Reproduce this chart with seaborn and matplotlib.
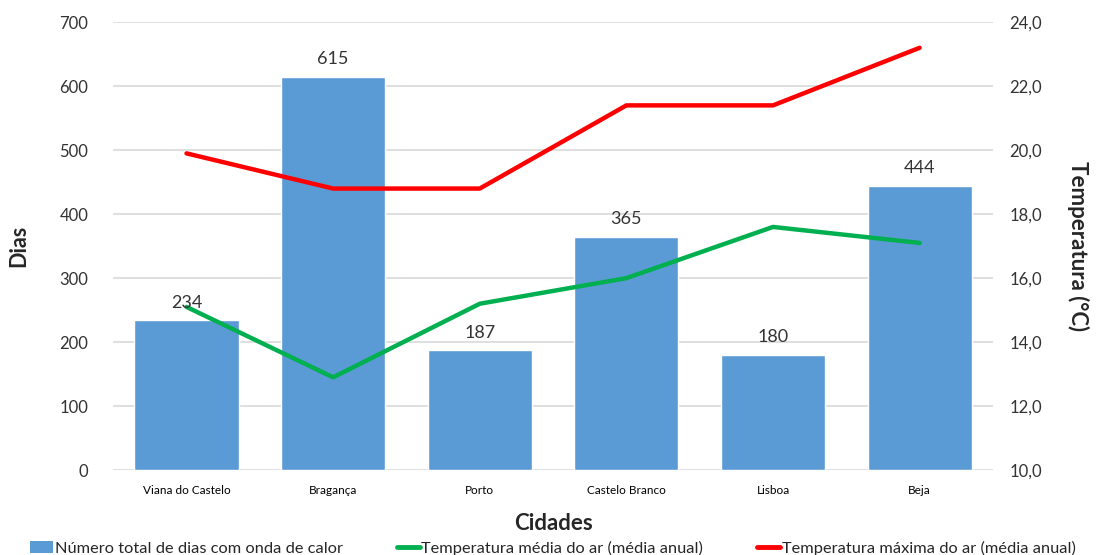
import numpy as np
import pandas as pd
import matplotlib
matplotlib.use("Agg")
import matplotlib.pyplot as plt
from matplotlib.ticker import FuncFormatter, MultipleLocator
from matplotlib.patches import Patch
from matplotlib.lines import Line2D
import seaborn as sns

cidades = ["Viana do Castelo", "Bragança", "Porto", "Castelo Branco", "Lisboa", "Beja"]
dias_onda_calor = [234, 615, 187, 365, 180, 444]
temp_media = [15.1, 12.9, 15.2, 16.0, 17.6, 17.1]
temp_maxima = [19.9, 18.8, 18.8, 21.4, 21.4, 23.2]

sns.set_style("white")
plt.rcParams["font.family"] = ["Lato", "DejaVu Sans"]

COR_BARRA = "#5b9bd5"
COR_MEDIA = "#00b050"
COR_MAX = "#ff0000"
COR_TEXTO = "#333333"
COR_GRELHA = "#d9d9d9"

df = pd.DataFrame({"Cidade": cidades, "Dias": dias_onda_calor})

fig = plt.figure(figsize=(10.99, 5.55), dpi=100)
ax = fig.add_axes([0.103, 0.153, 0.8005, 0.807])

sns.barplot(data=df, x="Cidade", y="Dias", color=COR_BARRA, width=0.71,
            saturation=1, ax=ax, zorder=2)
ax.set_ylim(0, 700)
ax.yaxis.set_major_locator(MultipleLocator(100))
ax.set_xlim(-0.5, len(cidades) - 0.5)
ax.grid(axis="y", color=COR_GRELHA, linewidth=1.2, zorder=0)
ax.set_axisbelow(True)
for s in ax.spines.values():
    s.set_visible(False)
ax.tick_params(axis="both", length=0)
ax.tick_params(axis="y", labelsize=12, labelcolor=COR_TEXTO, pad=18)
ax.tick_params(axis="x", labelsize=8.5, labelcolor="#000000", pad=11)
ax.set_ylabel("Dias", fontsize=15.5, fontweight="bold", labelpad=22)
ax.set_xlabel("Cidades", fontsize=16, fontweight="bold", labelpad=12)

ax2 = ax.twinx()
pos = np.arange(len(cidades))
sns.lineplot(x=pos, y=temp_maxima, color=COR_MAX, linewidth=3.2, ax=ax2,
             legend=False, zorder=3)
sns.lineplot(x=pos, y=temp_media, color=COR_MEDIA, linewidth=3.2, ax=ax2,
             legend=False, zorder=3)
ax2.set_ylim(10, 24)
ax2.yaxis.set_major_locator(MultipleLocator(2))
ax2.yaxis.set_major_formatter(FuncFormatter(lambda v, p: f"{v:.1f}".replace(".", ",")))
for s in ax2.spines.values():
    s.set_visible(False)
ax2.tick_params(axis="y", length=0, labelsize=12, labelcolor=COR_TEXTO, pad=12)
ax2.set_ylabel("Temperatura (°C)", fontsize=16, fontweight="bold",
               rotation=270, labelpad=34)
ax2.grid(False)

# value labels above the bars, placed on the twin axes so they sit over the lines
for cont in ax.containers:
    for barra, valor in zip(cont, dias_onda_calor):
        ax2.annotate(str(valor),
                     xy=(barra.get_x() + barra.get_width() / 2, valor),
                     xycoords=ax.transData,
                     xytext=(0, 7), textcoords="offset points",
                     ha="center", va="bottom", fontsize=13, color=COR_TEXTO,
                     zorder=5, annotation_clip=False)

handles = [
    Patch(facecolor=COR_BARRA, edgecolor="none"),
    Line2D([0], [0], color=COR_MEDIA, linewidth=3.5),
    Line2D([0], [0], color=COR_MAX, linewidth=3.5),
]
labels = [
    "Número total de dias com onda de calor",
    "Temperatura média do ar (média anual)",
    "Temperatura máxima do ar (média anual)",
]
fig.legend(handles, labels, loc="lower center", bbox_to_anchor=(0.503, -0.028),
           ncol=3, frameon=False, fontsize=11.8, handlelength=1.4,
           handletextpad=0.1, columnspacing=3.3, handleheight=0.8)

fig.savefig("out.png", dpi=100)
